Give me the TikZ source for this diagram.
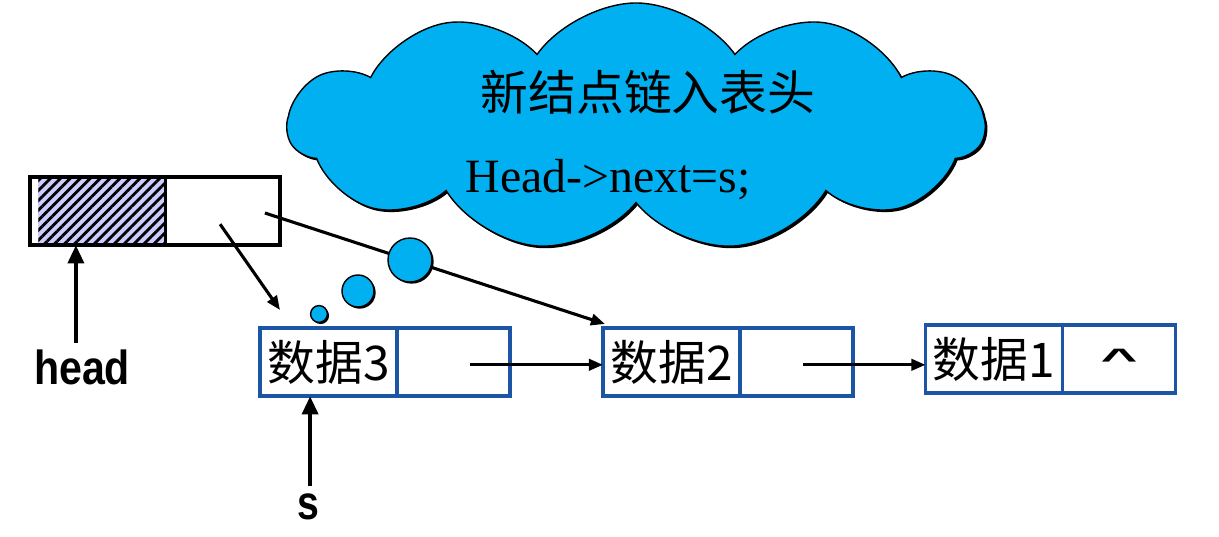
\documentclass[tikz,border=0pt]{standalone}
\usepackage{fontspec}
\setmainfont{Liberation Serif}
\setsansfont{Liberation Sans}
\newfontfamily\cjk{Noto Sans CJK SC}
\usepackage{tikz}
\usetikzlibrary{positioning,calc,arrows.meta,shapes.symbols,shadows,patterns.meta}
\definecolor{linkBorder}{HTML}{1D55A6}
\definecolor{cloudFill}{HTML}{00B0F0}
\definecolor{hatchBG}{HTML}{CCCCFF}

\begin{document}
\begin{tikzpicture}[
  datafield/.style={draw=linkBorder, line width=2.2pt, rectangle, outer sep=0pt, minimum width=3.425cm, minimum height=1.7cm, font=\cjk\fontsize{34}{40}\selectfont, inner sep=0pt},
  ptrfield/.style={draw=linkBorder, line width=2.2pt, rectangle, outer sep=0pt, minimum width=2.825cm, minimum height=1.7cm, inner sep=0pt},
  headfield/.style={draw=black, line width=2.8pt, rectangle, outer sep=0pt, minimum height=1.7cm, inner sep=0pt},
  link/.style={line width=2.2pt, -{Triangle[length=10pt,width=8pt]}},
  pointer/.style={line width=3.4pt, -{Triangle[length=13pt,width=11pt]}},
  varname/.style={font=\sffamily\bfseries\fontsize{34}{40}\selectfont, inner sep=0pt},
  puff/.style={circle, draw=black, line width=1pt, fill=cloudFill, inner sep=0pt, drop shadow={shadow xshift=1.2pt, shadow yshift=-1.2pt, opacity=1, fill=black}},
]
  \useasboundingbox (0,0) rectangle (30.475,13.425);

  % linked list nodes
  \node[datafield] (d3) at (8.2125,4.375) {数据3};
  \node[ptrfield, right=0pt of d3] (p3) {};
  \node[datafield] (d2) at (16.7875,4.375) {数据2};
  \node[ptrfield, right=0pt of d2] (p2) {};
  \node[datafield] (d1) at (24.85,4.45) {数据1};
  \node[ptrfield, right=0pt of d1, font=\sffamily\bfseries\fontsize{30}{36}\selectfont] (p1) {\raisebox{-0.35ex}{\scalebox{1.5}[0.7]{\^{}}}};

  % head node
  \node[headfield, minimum width=3.375cm] (hd) at (2.4375,8.15) {};
  \node[headfield, minimum width=2.875cm, right=0pt of hd] (hp) {};
  \fill[hatchBG] ([xshift=6pt]hd.south west) rectangle (hd.north east);
  \fill[pattern={Lines[angle=45, distance=5pt, line width=2pt]}, pattern color=black]
    ([xshift=6pt]hd.south west) rectangle (hd.north east);
  \draw[line width=2.8pt] (hd.south west) rectangle (hp.north east);
  \draw[line width=1pt] (hd.south east) -- (hd.north east);

  % labels
  \node[varname] (headlbl) at (2.05,4.25) {\scalebox{0.86}[1]{head}};
  \node[varname] (slbl) at (7.7,0.75) {\scalebox{0.82}[1]{s}};

  % connectors
  \coordinate (n3) at ([shift={(0.42cm,-0.07cm)}]p3.center);
  \coordinate (n2) at ([shift={(0.16cm,-0.07cm)}]p2.center);
  \draw[link] (n3) -- (n3 -| d2.west);
  \draw[link] (n2) -- (n2 -| d1.west);
  \coordinate (hnew) at ([shift={(-0.06cm,-0.33cm)}]hp.center);
  \coordinate (hold) at ([shift={(1.06cm,-0.05cm)}]hp.center);
  \coordinate (d3top) at ([shift={(0.5cm,0.45cm)}]d3.north west);
  \draw[link] (hnew) -- (d3top);
  \draw[link] (hold) -- ([shift={(0.05cm,0.1cm)}]d2.north west);
  \coordinate (hx) at ([xshift=-0.54cm]hd.south);
  \draw[pointer] (hx |- headlbl.north) ++(0,0.15) -- (hx);
  \coordinate (sx) at ([xshift=-0.46cm]d3.south);
  \draw[pointer] (sx |- slbl.north) ++(0,0.2) -- (sx);

  % thought cloud
  \node[cloud, cloud puffs=11, cloud puff arc=110, aspect=2.7, minimum width=17.4cm, minimum height=6.2cm,
    fill=cloudFill, draw=black, line width=1pt,
    drop shadow={shadow xshift=1.5pt, shadow yshift=-1.5pt, opacity=1, fill=black}] (think) at (15.9,10.25) {};
  \node[puff, minimum size=1.1cm] (b1) at (10.25,6.925) {};
  \node[puff, minimum size=0.8cm] (b2) at (8.95,6.15) {};
  \node[puff, minimum size=0.42cm] (b3) at (7.975,5.575) {};
  \node[font=\cjk\fontsize{34}{40}\selectfont] (title) at (16.2,11.125) {新结点链入表头};
  \node[font=\fontsize{34}{40}\selectfont] (code) at (15.2,8.925) {Head->next=s;};
\end{tikzpicture}
\end{document}
